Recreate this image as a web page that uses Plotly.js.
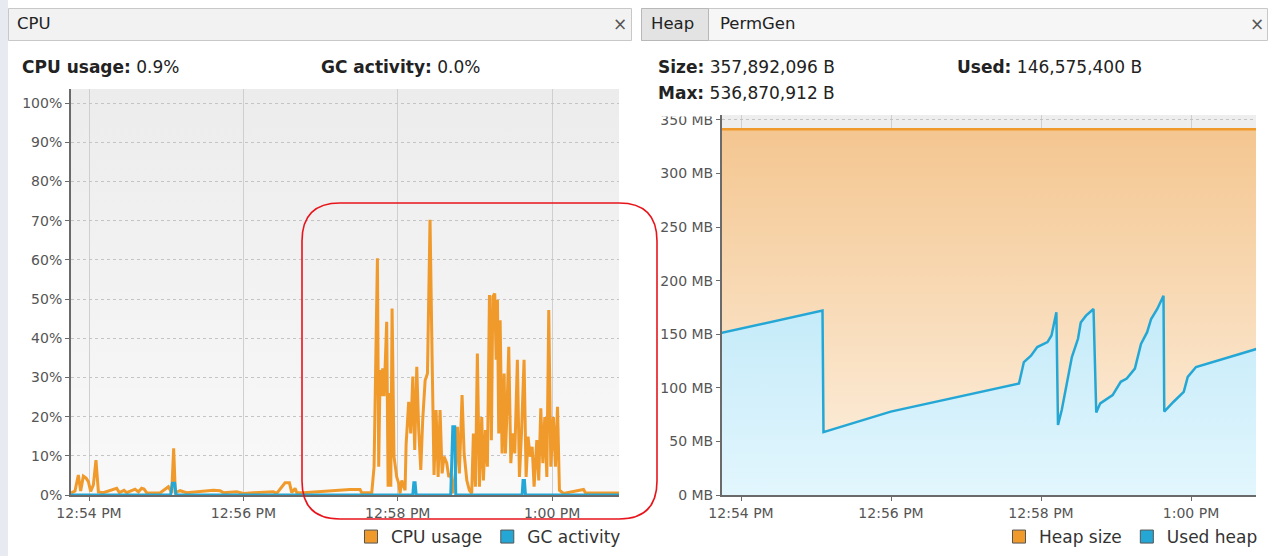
<!DOCTYPE html>
<html>
<head>
<meta charset="utf-8">
<script src="https://cdn.plot.ly/plotly-3.0.1.min.js"></script>
<style>
html,body{margin:0;padding:0;background:#fff;}
#chart{width:1278px;height:556px;}
</style>
</head>
<body>
<div id="chart"></div>
<script>
// ---- Data (time = seconds after 12:54:00 PM) ----
const cpuTime = [-14,-13.5,-10.9,-8.3,-6.5,-4.4,-2.3,-0.5,1.3,3.4,5.4,7.3,11.1,21.5,23.6,27.2,29.3,35.8,38.4,40.9,42.8,44.8,55.2,61.7,64.3,65.8,67.1,70.8,75.9,96.7,101.9,104.4,114.8,120.0,127.8,143.3,145.9,152.4,155.8,157.6,160.2,161.5,166.6,
  202.9,210.7,212,219.8,221.6,224.2,225.2,226.3,227.3,228.3,229.4,231.4,232.5,233.5,234.6,235.6,237.1,239.2,240.8,241.8,243.1,245.7,246.5,248.5,250.1,251.7,253.2,254.8,256.3,257.9,259.4,261.3,263.1,265.1,266.7,268.2,269.8,271.4,272.9,274.5,276.0,278.1,279.7,281.2,282.8,284.8,286.4,287.9,290.0,291.6,293.7,295.7,297.5,298.8,300.4,301.9,303.5,305.3,306.6,308.2,309.7,311.3,312.8,313.9,315.4,316.5,317.5,318.5,319.6,321.1,322.7,323.7,324.8,326.3,327.9,329.4,331.0,333.0,334.6,336.2,338.2,339.8,341.3,342.9,344.5,346.0,348.1,349.6,351.2,352.8,354.3,355.9,357.4,359.0,361.0,362.6,364.2,365.7,368.8,384.4,386,413];
const cpuUsage = [0.5,0.6,1.0,5.1,1.0,4.8,4.3,3.4,0.9,2.6,8.9,0.8,0.6,1.7,0.6,1.2,0.6,1.5,0.8,1.7,1.5,0.6,0.5,2.1,0.6,11.9,0.6,1.1,0.6,1.2,1.1,0.6,0.8,0.4,0.6,0.8,0.4,3.1,3.1,0.6,1.7,0.6,0.6,
  1.4,1.4,0.6,0.6,7.2,60.4,7.2,31.9,25.2,32.3,25.2,44.2,2.1,26.0,2.1,47.6,9.8,4.6,2.9,0.4,3.7,1.2,12.8,23.8,15.7,30.2,11.5,32.7,16.6,6.4,19.1,29.3,31.0,70.2,35.3,5.1,21.7,4.6,21.7,5.5,9.8,8.1,4.6,5.5,0.4,5.5,17.4,5.5,25.5,10.6,3.7,1.2,0.4,15.7,2.1,36.1,2.1,19.9,3.7,16.6,7.2,51.0,14.0,50.6,51.4,34.5,49.8,15.7,44.6,10.6,31.0,10.6,19.9,37.8,8.1,15.7,10.6,34.5,4.6,15.7,34.5,4.6,14.9,9.8,12.3,2.1,14.0,3.7,22.1,8.1,19.9,4.6,47.2,7.2,19.9,7.2,22.5,1.2,0.4,1.4,0.5,0.5];

const gcTime = [-14,63.5,64.8,66.6,67.6,251.7,252.5,253.5,254.3,281.2,282.8,284.3,285.1,336.7,337.4,338.5,339.3,413];
const gcActivity = [0,0,3.0,3.0,0,0,3.1,3.1,0,0,17.4,17.4,0,0,3.7,3.7,0,0];

const heapTime = [-16,65.2,66,119.8,222.4,226.3,232,237,245.2,248.4,252.3,253.6,256.6,264.7,269.6,271.8,276,282,284.2,287.4,297.3,303.8,308.6,315.1,320,324.9,328.1,333,338,338.6,346.1,354.2,357.4,364,413];
const usedHeapMB = [151.2,172,58.6,77.8,104,124,130,138,142.6,148.8,170.4,65.4,79.3,128.7,145.7,161,167.3,173.5,76.9,85.5,93.2,105.6,108.6,117.9,141,151.9,164.2,173.5,185.8,77.8,87,96.3,110.2,119.4,136.4];
const heapSizeTime = [-16,413];
const heapSizeMB = [341.3,341.3];

const cpuTicks = [0,10,20,30,40,50,60,70,80,90,100];
const heapTicks = [0,50,100,150,200,250,300,350];

// ---- helpers ----
function ts(s){
  const total = 12*3600 + 54*60 + s;
  const h = Math.floor(total/3600);
  const m = Math.floor((total - h*3600)/60);
  const sec = total - h*3600 - m*60;
  const p = n => (n<10?'0':'') + n;
  const ss = (sec<10?'0':'') + sec.toFixed(2);
  return '2013-06-05 ' + p(h) + ':' + p(m) + ':' + ss;
}
const W = 1278, H = 556;
const px = x => x / W;
const py = y => 1 - y / H;

const ORANGE = '#f09a2c';
const BLUE = '#25a7d6';
const FONT = 'DejaVu Sans';

const traces = [
  {x: cpuTime.map(ts), y: cpuUsage, xaxis:'x', yaxis:'y', mode:'lines', name:'CPU usage',
   line:{color:ORANGE, width:3}, showlegend:false, hoverinfo:'skip'},
  {x: gcTime.map(ts), y: gcActivity, xaxis:'x', yaxis:'y', mode:'lines', name:'GC activity',
   line:{color:BLUE, width:3}, showlegend:false, hoverinfo:'skip'},
  {x:[null], y:[null], xaxis:'x', yaxis:'y', mode:'markers', name:'CPU usage', legend:'legend',
   marker:{symbol:'square', size:13, color:ORANGE, line:{color:'#555', width:1}}},
  {x:[null], y:[null], xaxis:'x', yaxis:'y', mode:'markers', name:'GC activity', legend:'legend',
   marker:{symbol:'square', size:13, color:BLUE, line:{color:'#555', width:1}}},

  {x: heapSizeTime.map(ts), y: heapSizeMB, xaxis:'x2', yaxis:'y2', mode:'lines', name:'Heap size',
   line:{color:ORANGE, width:2.5}, fill:'tozeroy',
   fillgradient:{type:'vertical', start:0, stop:341.3, colorscale:[[0,'#fdf1e2'],[1,'#f4c690']]},
   showlegend:false, hoverinfo:'skip'},
  {x: heapTime.map(ts), y: usedHeapMB, xaxis:'x2', yaxis:'y2', mode:'lines', name:'Used heap',
   line:{color:BLUE, width:2.5}, fill:'tozeroy',
   fillgradient:{type:'vertical', start:0, stop:341.3, colorscale:[[0,'#e2f6fd'],[1,'#a9e0f5']]},
   showlegend:false, hoverinfo:'skip'},
  {x:[null], y:[null], xaxis:'x2', yaxis:'y2', mode:'markers', name:'Heap size', legend:'legend2',
   marker:{symbol:'square', size:13, color:ORANGE, line:{color:'#555', width:1}}},
  {x:[null], y:[null], xaxis:'x2', yaxis:'y2', mode:'markers', name:'Used heap', legend:'legend2',
   marker:{symbol:'square', size:13, color:BLUE, line:{color:'#555', width:1}}}
];

const tickFont = {family:FONT, size:14, color:'#555'};
const xCommon = {
  type:'date', tickformat:'%-I:%M %p', tick0: ts(0), dtick:120000,
  showgrid:true, gridcolor:'#cfcfcf', gridwidth:1,
  showline:true, linecolor:'#6a6a6a', linewidth:2,
  ticks:'outside', ticklen:4, tickcolor:'#6a6a6a',
  tickfont:tickFont, zeroline:false, fixedrange:true
};
const yCommon = {
  showgrid:true, gridcolor:'#c4c4c4', griddash:'dot', gridwidth:1,
  showline:true, linecolor:'#6a6a6a', linewidth:2,
  ticks:'outside', ticklen:4, tickcolor:'#6a6a6a',
  tickfont:tickFont, zeroline:false, fixedrange:true, tickmode:'array'
};

const bgSvg = 'data:image/svg+xml;utf8,' + encodeURIComponent(
  '<svg xmlns="http://www.w3.org/2000/svg" width="100" height="100" preserveAspectRatio="none">' +
  '<defs><linearGradient id="g" x1="0" y1="0" x2="0" y2="1">' +
  '<stop offset="0" stop-color="#ececec"/><stop offset="1" stop-color="#f9f9f9"/></linearGradient></defs>' +
  '<rect width="100" height="100" fill="url(#g)"/></svg>');

function rr(x0,y0,x1,y1,r){
  return 'M' + px(x0+r) + ',' + py(y0) +
    ' L' + px(x1-r) + ',' + py(y0) +
    ' Q' + px(x1) + ',' + py(y0) + ' ' + px(x1) + ',' + py(y0+r) +
    ' L' + px(x1) + ',' + py(y1-r) +
    ' Q' + px(x1) + ',' + py(y1) + ' ' + px(x1-r) + ',' + py(y1) +
    ' L' + px(x0+r) + ',' + py(y1) +
    ' Q' + px(x0) + ',' + py(y1) + ' ' + px(x0) + ',' + py(y1-r) +
    ' L' + px(x0) + ',' + py(y0+r) +
    ' Q' + px(x0) + ',' + py(y0) + ' ' + px(x0+r) + ',' + py(y0) + ' Z';
}
function rect(x0,y0,x1,y1,fill,line,layer){
  return {type:'rect', xref:'paper', yref:'paper', x0:px(x0), x1:px(x1), y0:py(y1), y1:py(y0),
    fillcolor:fill, line:{color:line||'rgba(0,0,0,0)', width: line?1:0}, layer:layer||'below'};
}
function txt(x,y,text,size,opts){
  return Object.assign({xref:'paper', yref:'paper', x:px(x), y:py(y), text:text, showarrow:false,
    xanchor:'left', yanchor:'middle', borderpad:0, borderwidth:0,
    font:{family:FONT, size:size, color:'#222'}}, opts||{});
}

const layout = {
  width:W, height:H, margin:{l:0,r:0,t:0,b:0},
  paper_bgcolor:'#ffffff', plot_bgcolor:'rgba(0,0,0,0)',
  font:{family:FONT},
  xaxis: Object.assign({}, xCommon, {domain:[px(71), px(619)], range:[ts(-14), ts(412)], anchor:'y'}),
  yaxis: Object.assign({}, yCommon, {domain:[py(495), py(89)], range:[0, 103.6], anchor:'x',
    tickvals:cpuTicks, ticktext:cpuTicks.map(v => v + '%')}),
  xaxis2: Object.assign({}, xCommon, {domain:[px(722), px(1256)], range:[ts(-15.2), ts(412)], anchor:'y2'}),
  yaxis2: Object.assign({}, yCommon, {domain:[py(495), py(115)], range:[0, 354.5], anchor:'x2',
    tickvals:heapTicks, ticktext:heapTicks.map(v => v + ' MB')}),
  showlegend:true,
  legend:{orientation:'h', x:px(626), xanchor:'right', y:py(537), yanchor:'middle',
    font:{family:FONT, size:17, color:'#333'}, bgcolor:'rgba(0,0,0,0)', itemwidth:30, tracegroupgap:0},
  legend2:{orientation:'h', x:px(1263), xanchor:'right', y:py(537), yanchor:'middle',
    font:{family:FONT, size:17, color:'#333'}, bgcolor:'rgba(0,0,0,0)', itemwidth:30, tracegroupgap:0},
  images:[{source:bgSvg, xref:'paper', yref:'paper', x:px(71), y:py(89), sizex:px(619)-px(71),
    sizey:py(89)-py(495), sizing:'stretch', xanchor:'left', yanchor:'top', layer:'below'}],
  shapes:[
    rect(0,0,8,556,'#e7eaf1',null,'below'),
    rect(722,115,1256,495,'#eeeeee',null,'below'),
    rect(8.5,8.5,631.5,40.5,'#f2f2f2','#c8c8c8','below'),
    rect(641.5,8.5,1267.5,40.5,'#f6f6f6','#c8c8c8','below'),
    rect(641.5,8.5,708.5,40.5,'#e3e3e3','#b8b8b8','below'),
    rect(650,104,719,116.5,'#ffffff',null,'above'),
    {type:'path', xref:'paper', yref:'paper', path: rr(302,203,657,519,38),
     line:{color:'#e8141c', width:1.6}, fillcolor:'rgba(0,0,0,0)', layer:'above'}
  ],
  annotations:[
    txt(17,24,'CPU',16.5),
    txt(620,24,'×',17,{xanchor:'center', font:{family:FONT,size:17,color:'#555'}}),
    txt(651,24,'Heap',16.5),
    txt(720,24,'PermGen',16.5),
    txt(1257,24,'×',17,{xanchor:'center', font:{family:FONT,size:17,color:'#555'}}),
    txt(22,67,'<b>CPU usage:</b> 0.9%',17),
    txt(321,67,'<b>GC activity:</b> 0.0%',17),
    txt(658,67,'<b>Size:</b> 357,892,096 B',17),
    txt(957,67,'<b>Used:</b> 146,575,400 B',17),
    txt(658,93,'<b>Max:</b> 536,870,912 B',17)
  ]
};

Plotly.newPlot('chart', traces, layout, {staticPlot:true, displayModeBar:false});
</script>
</body>
</html>
